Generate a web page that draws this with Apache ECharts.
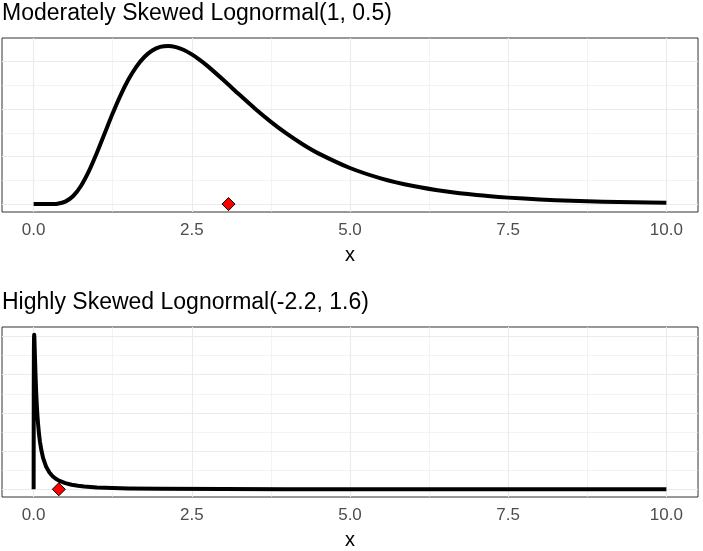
<!DOCTYPE html>
<html><head><meta charset="utf-8">
<script src="https://cdn.jsdelivr.net/npm/echarts@6/dist/echarts.min.js"></script>
<style>html,body{margin:0;padding:0;background:#fff}#c{width:703px;height:551px}</style>
</head><body><div id="c"></div>
<script>
// Top panel: Lognormal(1, 0.5) density
const topX = [0,0.125,0.25,0.375,0.5,0.625,0.75,0.875,1,1.125,1.25,1.375,1.5,1.625,1.75,1.875,2,2.125,2.25,2.375,2.5,2.625,2.75,3,3.25,3.5,3.75,4,4.25,4.5,5,5.5,6,6.5,7,7.5,8,8.5,9,9.5,10];
const topY = [0,0,0.00004,0.0008,0.0052,0.017,0.0386,0.0698,0.108,0.1496,0.1909,0.2292,0.2623,0.2892,0.3093,0.3229,0.3305,0.3326,0.3301,0.324,0.3147,0.3032,0.2901,0.2608,0.2303,0.2006,0.173,0.148,0.1259,0.1067,0.0759,0.0537,0.038,0.0269,0.019,0.0136,0.0097,0.007,0.0051,0.0037,0.0027];
const topMean = [3.08, 0];
// Bottom panel: Lognormal(-2.2, 1.6) density
const botX = [0,0.001,0.002,0.004,0.006,0.0086,0.012,0.02,0.03,0.04,0.05,0.06,0.07,0.085,0.1,0.12,0.15,0.2,0.25,0.3,0.35,0.4,0.5,0.6,0.7,0.8,1,1.25,1.5,2,3,4,5,6,7,8,9,10];
const botY = [0,3.29,5.36,7.23,7.9,8.09,7.92,7.03,5.96,5.09,4.41,3.86,3.42,2.89,2.49,2.08,1.63,1.16,0.876,0.685,0.55,0.452,0.32,0.238,0.183,0.145,0.097,0.063,0.044,0.024,0.0099,0.0051,0.0029,0.0019,0.0012,0.0009,0.0006,0.0005];
const botMean = [0.398, 0];
// Axis breaks
const xTicks = [0, 2.5, 5, 7.5, 10];
const xMinor = [1.25, 3.75, 6.25, 8.75];
const topYMajor = [0, 0.1, 0.2, 0.3];
const topYMinor = [0.05, 0.15, 0.25];
const botYMajor = [0, 2, 4, 6, 8];
const botYMinor = [1, 3, 5, 7];
const titles = ["Moderately Skewed Lognormal(1, 0.5)", "Highly Skewed Lognormal(-2.2, 1.6)"];

const FONT = "Liberation Sans, Arial, sans-serif";
const zip = (a, b) => a.map((v, i) => [v, b[i]]);

function gridLines(idx, yMaj, yMin) {
  const mk = (arr, key, w) => arr.map(v => ({[key]: v, lineStyle: {color: '#EBEBEB', width: w, type: 'solid'}}));
  return {
    type: 'line', xAxisIndex: idx, yAxisIndex: idx, data: [], silent: true, z: 1, zlevel: 0,
    markLine: {
      silent: true, symbol: ['none', 'none'], label: {show: false}, animation: false, z: 1,
      emphasis: {disabled: true},
      data: [].concat(mk(xMinor, 'xAxis', 0.6), mk(yMin, 'yAxis', 0.6), mk(xTicks, 'xAxis', 1.1), mk(yMaj, 'yAxis', 1.1))
    }
  };
}

function xAxis(idx) {
  return {
    type: 'value', gridIndex: idx, min: -0.5, max: 10.5,
    axisLine: {show: false},
    splitLine: {show: false},
    axisTick: {show: true, length: 4, lineStyle: {color: '#333', width: 1}, customValues: xTicks},
    axisLabel: {customValues: xTicks, color: '#4D4D4D', fontSize: 17, fontFamily: FONT, margin: 10,
      formatter: v => v.toFixed(1)},
    name: 'x', nameLocation: 'middle', nameGap: 33,
    nameTextStyle: {color: '#000', fontSize: 20, fontFamily: FONT}
  };
}
function yAxis(idx, lo, hi) {
  return {type: 'value', gridIndex: idx, min: lo, max: hi, axisLine: {show: false}, axisTick: {show: false},
    axisLabel: {show: false}, splitLine: {show: false}};
}
function curve(idx, xs, ys) {
  return {type: 'line', xAxisIndex: idx, yAxisIndex: idx, data: zip(xs, ys), showSymbol: false, symbol: 'none',
    smooth: idx === 0 ? 0.25 : false, lineStyle: {color: '#000', width: 4, cap: 'butt', join: 'round'}, z: 10, animation: false};
}
function meanPt(idx, p) {
  return {type: 'scatter', xAxisIndex: idx, yAxisIndex: idx, data: [p], symbol: 'diamond', symbolSize: [13, 13],
    itemStyle: {color: '#FF0000', borderColor: '#000', borderWidth: 1, opacity: 1}, z: 12, animation: false};
}

const topMax = Math.max(...topY), botMax = Math.max(...botY);
const chart = echarts.init(document.getElementById('c'), null, {renderer: 'canvas'});
chart.setOption({
  backgroundColor: '#fff',
  animation: false,
  title: [
    {text: titles[0], left: 2, top: 2, padding: 0, textStyle: {fontSize: 23, fontWeight: 'normal', color: '#000', fontFamily: FONT}},
    {text: titles[1], left: 2, top: 291, padding: 0, textStyle: {fontSize: 23, fontWeight: 'normal', color: '#000', fontFamily: FONT}}
  ],
  grid: [
    {left: 2, right: 5, top: 38, height: 174, show: true, borderColor: '#333', borderWidth: 1, backgroundColor: '#fff'},
    {left: 2, right: 5, top: 327, height: 173, show: true, borderColor: '#333', borderWidth: 1, backgroundColor: '#fff'}
  ],
  xAxis: [xAxis(0), xAxis(1)],
  yAxis: [yAxis(0, -0.05 * topMax, 1.05 * topMax), yAxis(1, -0.05 * botMax, 1.05 * botMax)],
  series: [
    gridLines(0, topYMajor, topYMinor),
    gridLines(1, botYMajor, botYMinor),
    curve(0, topX, topY), curve(1, botX, botY),
    meanPt(0, topMean), meanPt(1, botMean)
  ]
});
</script></body></html>
